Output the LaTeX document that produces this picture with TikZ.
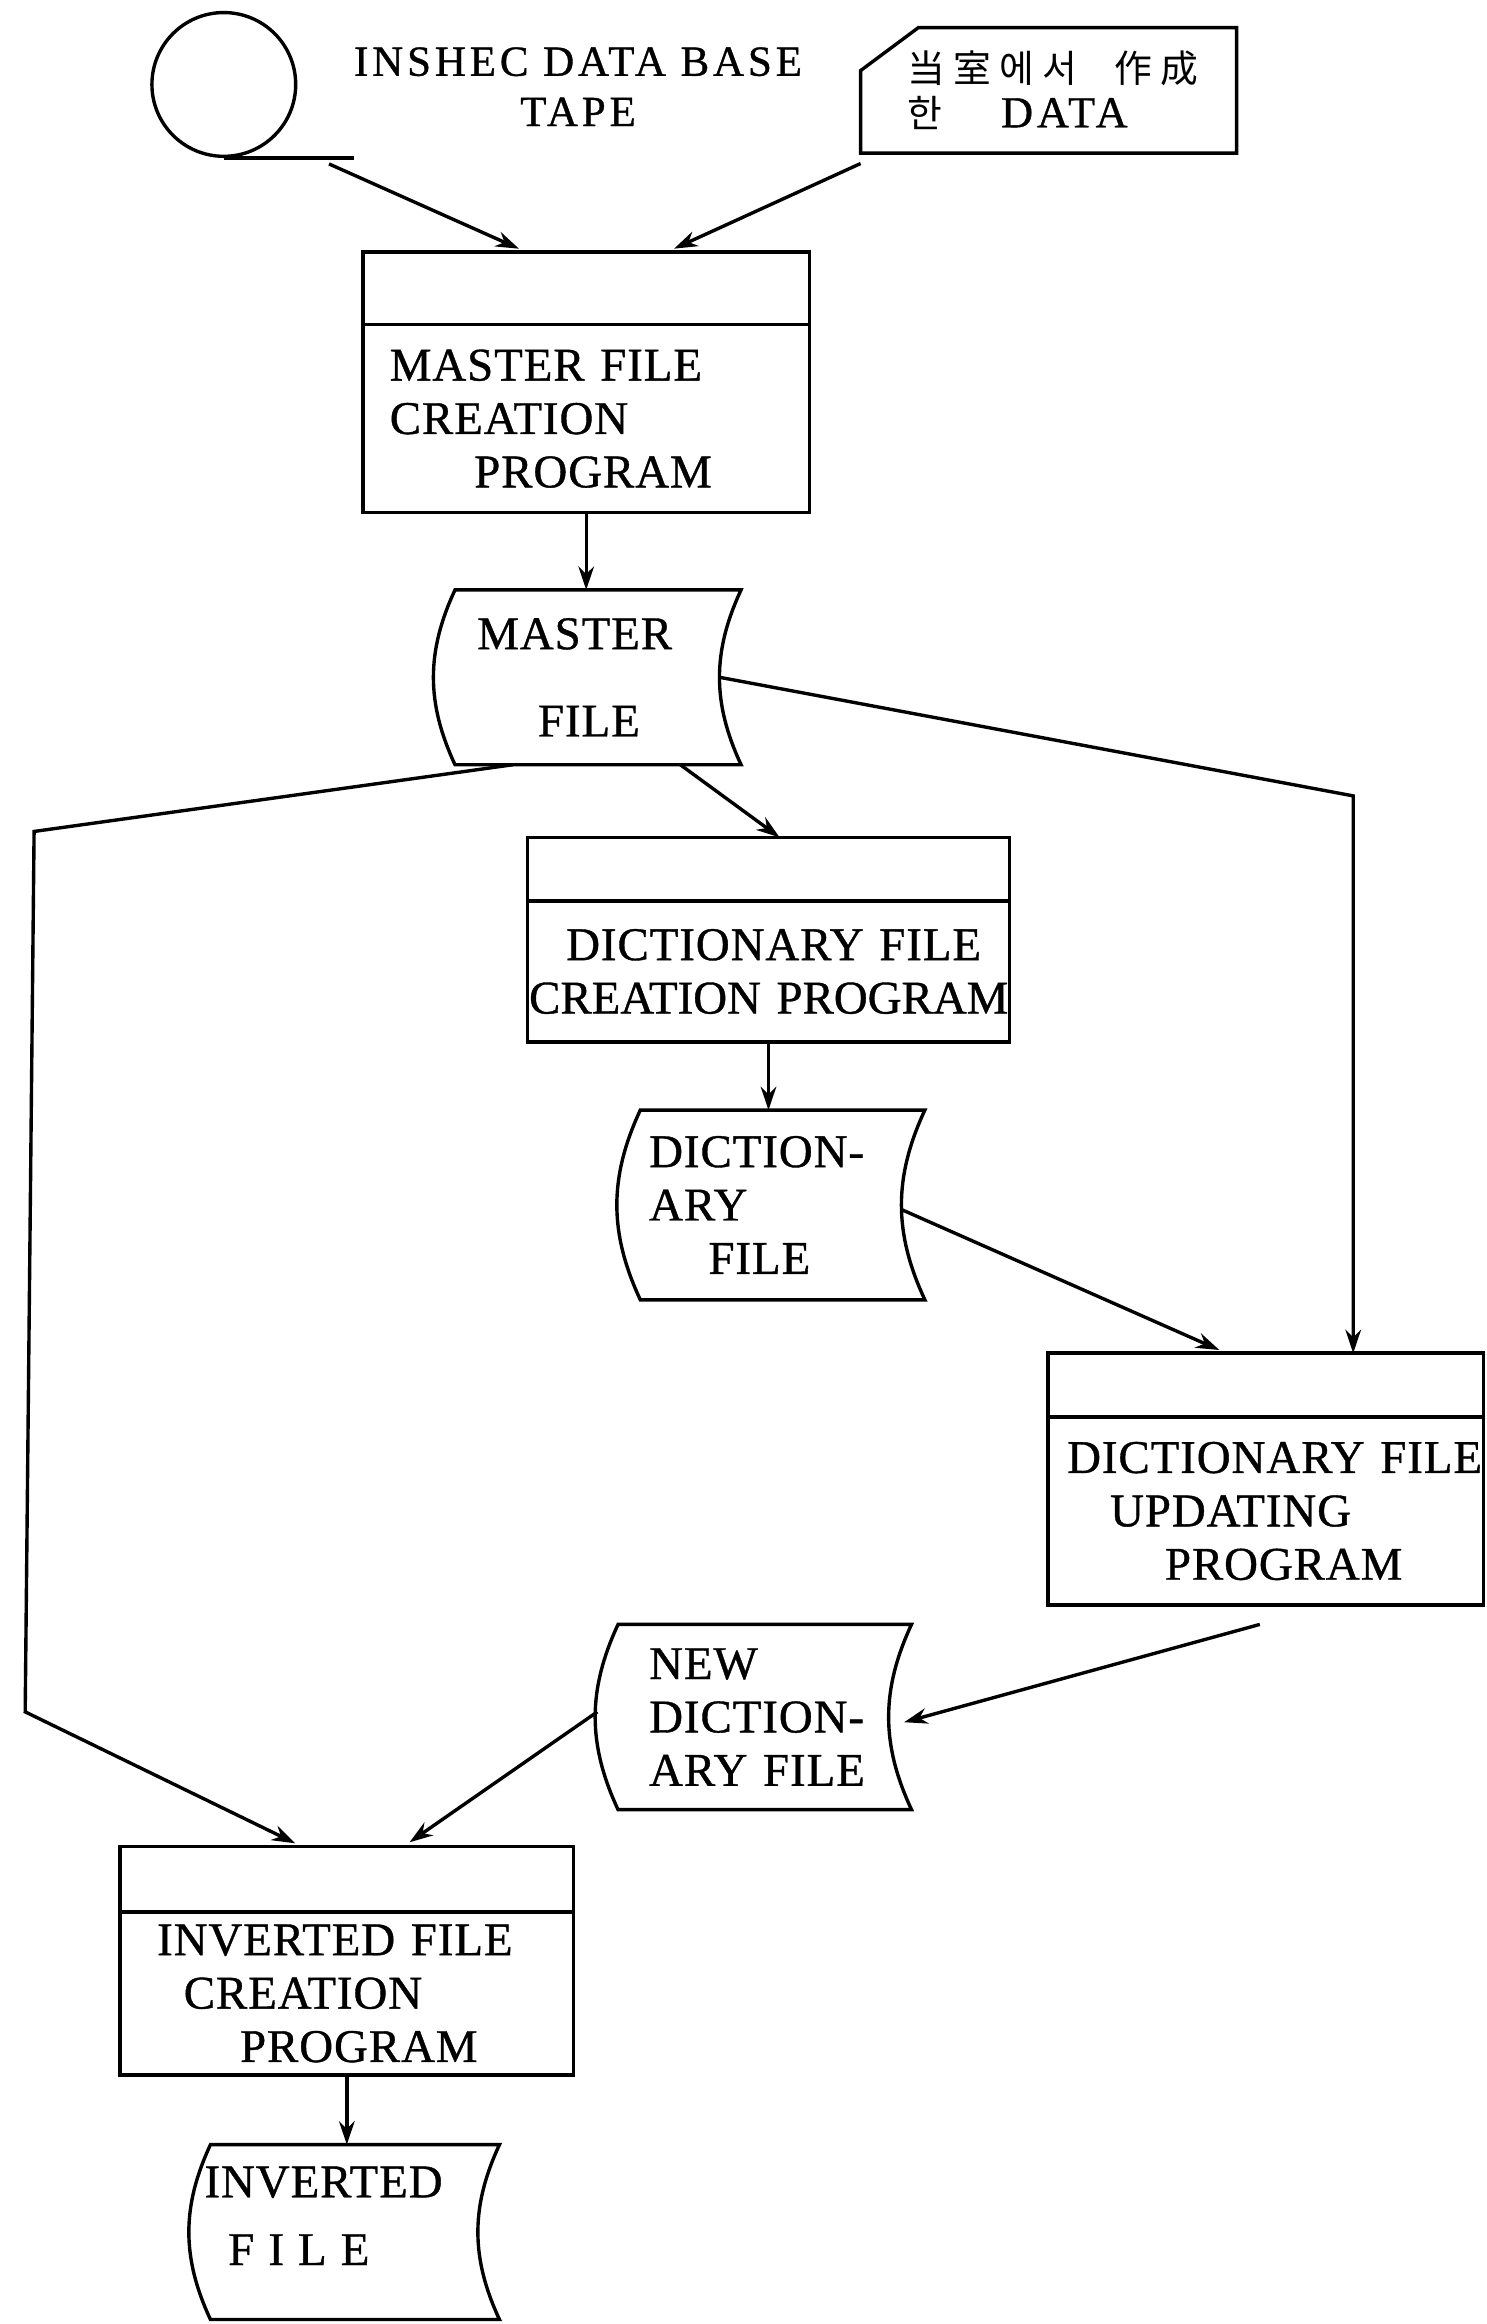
\documentclass[tikz,border=0pt]{standalone}
\usepackage{fontspec}
\setmainfont{Liberation Serif}
\newfontfamily\progfont[LetterSpace=2,FakeBold=0.8]{Liberation Serif}
\newfontfamily\tapefont[LetterSpace=9,FakeBold=0.8]{Liberation Serif}
\newfontfamily\krfont[LetterSpace=22]{Noto Sans CJK KR}
\usetikzlibrary{arrows.meta,positioning}

\tikzset{
  prog/.style={font={\progfont\fontsize{18}{20.5}\selectfont}},
  hdrbox/.style={draw,line width=1.3pt,outer sep=0pt},
  progbox/.style={prog,draw,line width=1.3pt,outer sep=0pt,align=left,inner xsep=1mm,inner ysep=0pt},
  filebox/.style={prog,align=left,inner xsep=1mm,inner ysep=0pt,outer sep=0pt},
  flow/.style={line width=1.3pt,-{Stealth[length=9pt,width=6pt]}},
  link/.style={line width=1.3pt},
}

\begin{document}
\begin{tikzpicture}[x=1cm,y=1cm]
  \useasboundingbox (0,0) rectangle (20.06,31.36);
  % inputs
  \node[draw,circle,line width=1.3pt,minimum size=1.94cm,inner sep=0pt] (tape) at (3.02,30.22) {};
  \draw[link] (tape.south) -- ++(1.76,0) coordinate (tapeend);
  \node[align=center,font={\tapefont\fontsize{16.5}{19.3}\selectfont}] (tapelbl) at (7.8,30.19) {INSHEC DATA BASE\\TAPE};
  \node[minimum width=5.06cm,minimum height=1.68cm,text width=4.86cm,align=left,inner xsep=1mm,inner ysep=0pt,
        font={\krfont\fontsize{14.5}{17}\selectfont}] (card) at (14.15,30.14)
    {\hspace*{0.52cm}当室에서\hspace{0.5cm}作成\\
     \hspace*{0.52cm}한\hspace{0.8cm}{\tapefont\fontsize{17}{17}\selectfont DATA}};
  \draw[link] ([xshift=0.78cm]card.north west) -- (card.north east) -- (card.south east)
    -- (card.south west) -- ([yshift=-0.58cm]card.north west) -- cycle;

  % programs
  \node[hdrbox,minimum width=6.02cm,minimum height=0.98cm] (hdr1) at (7.91,27.47) {};
  \node[progbox,below=0pt of hdr1,minimum height=2.54cm,text width=5.82cm] (prog1)
    {\hspace*{0.26cm}MASTER FILE\\\hspace*{0.26cm}CREATION\\\hspace*{1.4cm}PROGRAM};
  \node[hdrbox,minimum width=6.5cm,minimum height=0.86cm] (hdr2) at (10.37,19.63) {};
  \node[progbox,below=0pt of hdr2,minimum height=1.9cm,text width=6.3cm] (prog2)
    {\hspace*{0.42cm}DICTIONARY FILE\\\hspace*{-0.08cm}\mbox{\addfontfeatures{LetterSpace=0}CREATION PROGRAM}};
  \node[hdrbox,minimum width=5.88cm,minimum height=0.86cm] (hdr3) at (17.08,12.67) {};
  \node[progbox,below=0pt of hdr3,minimum height=2.54cm,text width=5.68cm] (prog3)
    {\hspace*{0.16cm}\mbox{DICTIONARY FILE}\\\hspace*{0.74cm}UPDATING\\\hspace*{1.48cm}PROGRAM};
  \node[hdrbox,minimum width=6.12cm,minimum height=0.88cm] (hdr4) at (4.68,6.0) {};
  \node[progbox,below=0pt of hdr4,minimum height=2.2cm,text width=5.92cm] (prog4)
    {\hspace*{0.4cm}INVERTED FILE\\\hspace*{0.76cm}CREATION\\\hspace*{1.52cm}PROGRAM};

  % files
  \node[filebox,minimum width=3.86cm,minimum height=2.36cm,text width=3.66cm] (mfile) at (8.07,22.22)
    {\hspace*{0.2cm}MASTER\\[13pt]\hspace*{1.02cm}FILE};
  \node[filebox,minimum width=3.84cm,minimum height=2.56cm,text width=3.64cm] (dfile) at (10.56,15.1)
    {\hspace*{0.02cm}DICTION-\\\hspace*{0.02cm}ARY\\\hspace*{0.82cm}FILE};
  \node[filebox,minimum width=3.96cm,minimum height=2.5cm,text width=3.76cm] (ndfile) at (10.32,8.19)
    {\hspace*{0.32cm}NEW\\\hspace*{0.32cm}DICTION-\\\hspace*{0.32cm}ARY FILE};
  \node[filebox,minimum width=3.9cm,minimum height=2.36cm,text width=3.7cm] (ifile) at (4.79,1.24)
    {\hspace*{-0.18cm}INVERTED\\[5.5pt]\hspace*{0.14cm}F\hspace{0.3em}I\hspace{0.3em}L\hspace{0.3em}E\rule[-0.44cm]{0pt}{0pt}};
  \foreach \f in {mfile,dfile,ndfile,ifile}
    \draw[link] (\f.north west) -- (\f.north east) to[bend right=25] (\f.south east)
      -- (\f.south west) to[bend left=25] (\f.north west) -- cycle;

  % connectors
  \coordinate (rc) at (18.26,20.62);
  \coordinate (lc1) at (0.46,20.14);
  \coordinate (lc2) at (0.34,8.26);
  \draw[flow,shorten >=3pt] ([xshift=-0.34cm,yshift=-0.08cm]tapeend) -- ([xshift=-0.81cm]hdr1.north);
  \draw[flow,shorten >=3pt] ([yshift=-0.14cm]card.south west) -- ([xshift=1.09cm]hdr1.north);
  \draw[flow] (prog1.south) -- (prog1.south |- mfile.north);
  \draw[flow] ([xshift=1.11cm]mfile.south) -- ([xshift=0.15cm]hdr2.north);
  \draw[flow] ([xshift=-0.29cm]mfile.east) -- (rc) -- (rc |- hdr3.north);
  \draw[flow,shorten >=3pt] ([xshift=-1.15cm]mfile.south) -- (lc1) -- (lc2) -- ([xshift=-0.6cm]hdr4.north);
  \draw[flow] (prog2.south) -- (prog2.south |- dfile.north);
  \draw[flow,shorten >=3pt] ([xshift=-0.32cm,yshift=-0.06cm]dfile.east) -- ([xshift=-0.53cm]hdr3.north);
  \draw[flow] ([xshift=-0.08cm,yshift=-0.26cm]prog3.south) -- ([xshift=-0.1cm,yshift=-0.07cm]ndfile.east);
  \draw[flow,shorten >=3pt] ([xshift=-0.28cm,yshift=0.07cm]ndfile.west) -- ([xshift=0.76cm]hdr4.north);
  \draw[flow] (prog4.south) -- (prog4.south |- ifile.north);
\end{tikzpicture}
\end{document}
